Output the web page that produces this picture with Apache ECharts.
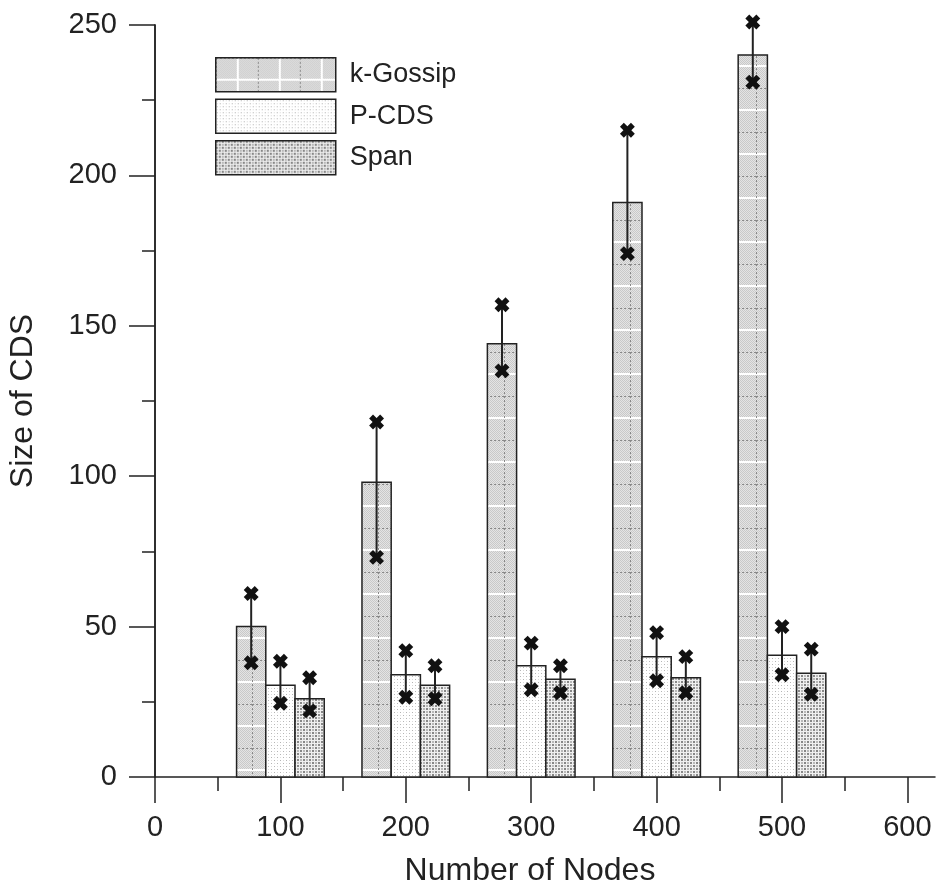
<!DOCTYPE html>
<html>
<head>
<meta charset="utf-8">
<script src="https://cdn.jsdelivr.net/npm/echarts@6/dist/echarts.min.js"></script>
<style>
  html, body { margin: 0; padding: 0; background: #fff; }
  #main { width: 938px; height: 892px; }
</style>
</head>
<body>
<div id="main"></div>
<script>
// 数据
var nodes = [100, 200, 300, 400, 500];
var kGossip = [50, 98, 144, 191, 240];
var kGossipHi = [61, 118, 157, 215, 251];
var kGossipLo = [38, 73, 135, 174, 231];
var pcds = [30.5, 34, 37, 40, 40.5];
var pcdsHi = [38.5, 42, 44.5, 48, 50];
var pcdsLo = [24.5, 26.5, 29, 32, 34];
var span = [26, 30.5, 32.5, 33, 34.5];
var spanHi = [33, 37, 37, 40, 42.5];
var spanLo = [22, 26, 28, 28, 27.5];
var xTicks = [0, 100, 200, 300, 400, 500, 600];
var xMinorTicks = [50, 150, 250, 350, 450, 550];

var fontFam = '"Liberation Sans", Arial, sans-serif';
var ink = '#222';
var barW = 23.3; // 柱宽(横轴单位)

// 填充纹理
function tileKGossip() {
    var c = document.createElement('canvas');
    c.width = 42; c.height = 44;
    var g = c.getContext('2d');
    for (var y = 0; y < 44; y++) {
        for (var x = 0; x < 42; x++) {
            g.fillStyle = ((x + y) % 2 === 0) ? '#c9c9c9' : '#e4e4e4';
            g.fillRect(x, y, 1, 1);
        }
    }
    g.fillStyle = '#fff';
    g.fillRect(0, 21, 42, 2);
    g.fillRect(21, 0, 2, 44);
    g.fillStyle = '#888';
    for (var i = 0; i < 42; i += 4) g.fillRect(i, 0, 2, 1);
    for (var j = 0; j < 44; j += 4) g.fillRect(0, j, 1, 2);
    return c;
}
function tilePCDS() {
    var c = document.createElement('canvas');
    c.width = 6; c.height = 6;
    var g = c.getContext('2d');
    g.fillStyle = '#fff';
    g.fillRect(0, 0, 6, 6);
    g.fillStyle = '#b4b4b4';
    g.fillRect(1, 1, 1, 1);
    g.fillRect(4, 4, 1, 1);
    g.fillStyle = '#dcdcdc';
    g.fillRect(4, 1, 1, 1);
    g.fillRect(1, 4, 1, 1);
    return c;
}
function tileSpan() {
    var c = document.createElement('canvas');
    c.width = 6; c.height = 6;
    var g = c.getContext('2d');
    g.fillStyle = '#f0f0f0';
    g.fillRect(0, 0, 6, 6);
    g.fillStyle = '#878787';
    g.fillRect(0, 0, 2, 2);
    g.fillRect(3, 3, 2, 2);
    g.fillStyle = '#b8b8b8';
    g.fillRect(3, 0, 2, 2);
    g.fillRect(0, 3, 2, 2);
    return c;
}
var patK = { image: tileKGossip(), repeat: 'repeat' };
var patP = { image: tilePCDS(), repeat: 'repeat' };
var patS = { image: tileSpan(), repeat: 'repeat' };

function pairs(xs, ys) {
    return xs.map(function (x, i) { return [x, ys[i]]; });
}
function triples(xs, hi, lo) {
    return xs.map(function (x, i) { return [x, hi[i], lo[i]]; });
}

function barRenderer(offset, fill) {
    return function (params, api) {
        var x = api.value(0) + offset;
        var p0 = api.coord([x - barW / 2, api.value(1)]);
        var p1 = api.coord([x + barW / 2, 0]);
        return {
            type: 'rect',
            shape: { x: p0[0], y: p0[1], width: p1[0] - p0[0], height: p1[1] - p0[1] },
            style: { fill: fill, stroke: ink, lineWidth: 1.5 }
        };
    };
}
function cross(p) {
    var d = 5.5;
    return [
        { type: 'line', shape: { x1: p[0] - d, y1: p[1] - d, x2: p[0] + d, y2: p[1] + d }, style: { stroke: '#111', lineWidth: 5.5 } },
        { type: 'line', shape: { x1: p[0] - d, y1: p[1] + d, x2: p[0] + d, y2: p[1] - d }, style: { stroke: '#111', lineWidth: 5.5 } }
    ];
}
function errRenderer(offset) {
    return function (params, api) {
        var x = api.value(0) + offset;
        var hi = api.coord([x, api.value(1)]);
        var lo = api.coord([x, api.value(2)]);
        var kids = [{ type: 'line', shape: { x1: hi[0], y1: hi[1], x2: lo[0], y2: lo[1] }, style: { stroke: '#222', lineWidth: 2 } }];
        kids = kids.concat(cross(hi), cross(lo));
        return { type: 'group', children: kids };
    };
}

var myChart = echarts.init(document.getElementById('main'));
var option = {
    animation: false,
    backgroundColor: '#fff',
    grid: { left: 155, right: 3, top: 25, bottom: 115, outerBoundsMode: 'none' },
    legend: {
        orient: 'vertical',
        left: 215,
        top: 57,
        padding: 0,
        itemWidth: 120,
        itemHeight: 34,
        itemGap: 6,
        icon: 'rect',
        textStyle: { fontSize: 27, color: ink, fontFamily: fontFam, padding: [0, 0, 0, 9] },
        itemStyle: { borderColor: ink, borderWidth: 1.5 },
        data: ['k-Gossip', 'P-CDS', 'Span']
    },
    xAxis: [{
        type: 'value',
        min: 0,
        max: 622,
        name: 'Number of Nodes',
        nameLocation: 'middle',
        nameGap: 78,
        nameTextStyle: { fontSize: 32, color: ink, fontFamily: fontFam, padding: [0, 30, 0, 0] },
        splitLine: { show: false },
        axisLine: { show: true, lineStyle: { color: ink, width: 1.5 } },
        axisTick: { show: true, customValues: xTicks, length: 26, lineStyle: { color: ink, width: 1.5 } },
        axisLabel: { customValues: xTicks, margin: 36, fontSize: 29, color: ink, fontFamily: fontFam }
    }, {
        type: 'value',
        min: 0,
        max: 622,
        position: 'bottom',
        splitLine: { show: false },
        axisLine: { show: false },
        axisTick: { show: true, customValues: xMinorTicks, length: 14, lineStyle: { color: ink, width: 1.5 } },
        axisLabel: { show: false }
    }],
    yAxis: [{
        type: 'value',
        min: 0,
        max: 250,
        interval: 50,
        name: 'Size of CDS',
        nameLocation: 'middle',
        nameGap: 116,
        nameTextStyle: { fontSize: 32, color: ink, fontFamily: fontFam },
        splitLine: { show: false },
        axisLine: { show: true, lineStyle: { color: ink, width: 1.5 } },
        axisTick: { show: true, length: 26, lineStyle: { color: ink, width: 1.5 } },
        minorTick: { show: true, splitNumber: 2, length: 13, lineStyle: { color: ink, width: 1.5 } },
        axisLabel: { margin: 38, fontSize: 29, color: ink, fontFamily: fontFam }
    }, {
        type: 'value',
        min: 0,
        max: 250,
        interval: 50,
        position: 'right',
        splitLine: { show: false },
        axisLine: { show: true, lineStyle: { color: ink, width: 1.5 } },
        axisTick: { show: true, inside: true, length: 12, lineStyle: { color: ink, width: 1.5 } },
        minorTick: { show: true, splitNumber: 2, length: 12, lineStyle: { color: ink, width: 1.5 } },
        axisLabel: { show: false }
    }],
    series: [{
        name: 'k-Gossip',
        type: 'custom',
        renderItem: barRenderer(-barW, patK),
        itemStyle: { color: patK, borderColor: ink, borderWidth: 1.5 },
        encode: { x: 0, y: 1 },
        data: pairs(nodes, kGossip),
        z: 2
    }, {
        name: 'P-CDS',
        type: 'custom',
        renderItem: barRenderer(0, patP),
        itemStyle: { color: patP, borderColor: ink, borderWidth: 1.5 },
        encode: { x: 0, y: 1 },
        data: pairs(nodes, pcds),
        z: 2
    }, {
        name: 'Span',
        type: 'custom',
        renderItem: barRenderer(barW, patS),
        itemStyle: { color: patS, borderColor: ink, borderWidth: 1.5 },
        encode: { x: 0, y: 1 },
        data: pairs(nodes, span),
        z: 2
    }, {
        name: 'err-k',
        type: 'custom',
        renderItem: errRenderer(-barW),
        encode: { x: 0, y: [1, 2] },
        data: triples(nodes, kGossipHi, kGossipLo),
        z: 3
    }, {
        name: 'err-p',
        type: 'custom',
        renderItem: errRenderer(0),
        encode: { x: 0, y: [1, 2] },
        data: triples(nodes, pcdsHi, pcdsLo),
        z: 3
    }, {
        name: 'err-s',
        type: 'custom',
        renderItem: errRenderer(barW),
        encode: { x: 0, y: [1, 2] },
        data: triples(nodes, spanHi, spanLo),
        z: 3
    }]
};
myChart.setOption(option);
</script>
</body>
</html>
